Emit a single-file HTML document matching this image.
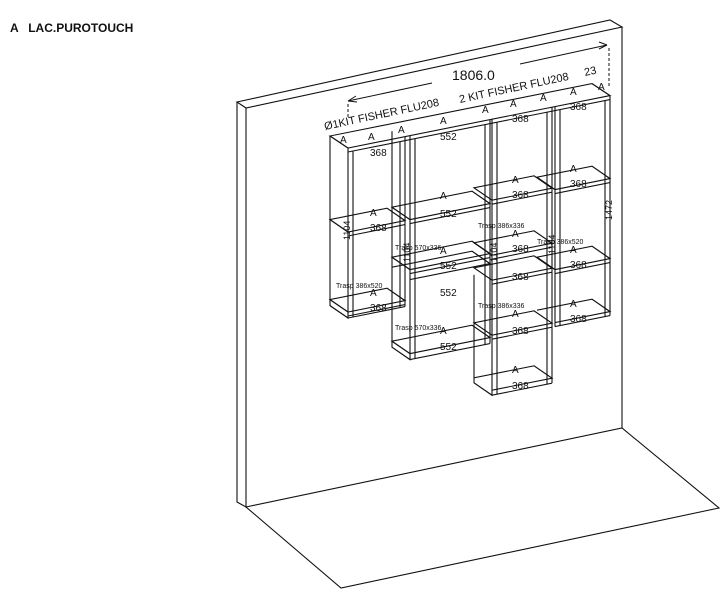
<!DOCTYPE html>
<html><head><meta charset="utf-8"><style>
html,body{margin:0;padding:0;background:#fff;width:726px;height:589px;overflow:hidden}
svg{display:block}
.t{font-family:"Liberation Sans",sans-serif;fill:#111}
</style></head><body>
<svg width="726" height="589" viewBox="0 0 726 589" xmlns="http://www.w3.org/2000/svg">
<text x="10" y="32" class="t" font-size="12" font-weight="bold" xml:space="preserve">A   LAC.PUROTOUCH</text>
<g fill="none" stroke="#111" stroke-width="1.1">
<path d="M237,102 L610,20 L622,27 L246,108 Z"/>
<path d="M237,102 L237,502 L246,507 L246,108"/>
<path d="M622,27 L622,428"/>
<path d="M246,507 L622,428 L719,508 L341,588 Z"/>
</g>
<g stroke="#111" stroke-width="1" fill="none">
<path d="M348,101 L432,83"/><path d="M520,64 L607,45"/>
<path d="M348,101 l8,-5 M348,101 l9,1"/>
<path d="M607,45 l-8,-3 M607,45 l-8,4"/>
<path d="M348,104 L348,118" stroke-dasharray="3,2"/>
<path d="M609,48 L609,88" stroke-dasharray="3,2"/>
</g>
<text x="452" y="80" class="t" font-size="14">1806.0</text>
<text x="585" y="76" class="t" font-size="11" transform="rotate(-12 585 76)">23</text>
<text x="325" y="130" class="t" font-size="11" transform="rotate(-12 325 130)">Ø1KIT FISHER FLU208</text>
<text x="460" y="103" class="t" font-size="11" transform="rotate(-12 460 103)">2 KIT FISHER FLU208</text>
<g transform="matrix(1,-0.2,0,1,0,69.6)" fill="none" stroke="#111" stroke-width="1.1">
<path d="M330,132.4 L592,132.4 L610,148 L348,148 Z"/>
<path d="M348,152 L610,152"/>
<path d="M330,132 V302 L348,318 V148 M353,152 V318 M405,148 V318 M400,152 V318 M348,318 H405"/>
<path d="M330,216 H387 L405,232 H348 Z M348,236 H405"/>
<path d="M330,296 H387 L405,312 H348 Z M348,316 H405"/>
<path d="M392,140 V356 L410,372 V148 M415,152 V372 M490,148 V372 M485,152 V372 M410,372 H490"/>
<path d="M392,216 H472 L490,232 H410 Z M410,236 H490"/>
<path d="M392,266 H472 L490,282 H410 Z M410,286 H490"/>
<path d="M392,276 H472 L490,292 H410"/>
<path d="M392,350 H472 L490,366 H410 Z"/>
<path d="M474,300 V408 L492,424 V148 M497,152 V424 M552,148 V424 M547,152 V424 M492,424 H552"/>
<path d="M474,213 H534 L552,229 H492 Z M492,233 H552"/>
<path d="M474,268 H534 L552,284 H492 Z M492,288 H552"/>
<path d="M474,293 H534 L552,309 H492 Z M492,313 H552"/>
<path d="M474,348 H534 L552,364 H492 Z M492,368 H552"/>
<path d="M474,403 H534 L552,419 H492"/>
<path d="M555,148 V368 M560,152 V368 M610,148 V368 M605,152 V368 M555,368 H610"/>
<path d="M537,215 H592 L610,231 H555 Z M555,235 H610"/>
<path d="M537,295 H592 L610,311 H555 Z M555,315 H610"/>
<path d="M537,348 H592 L610,364 H555"/>
</g>
<g class="t" font-size="10">
<text x="340" y="143">A</text><text x="368" y="140">A</text><text x="398" y="133">A</text><text x="440" y="124">A</text><text x="482" y="113">A</text><text x="510" y="107">A</text><text x="540" y="101">A</text><text x="570" y="95">A</text><text x="598" y="90">A</text>
<text x="370" y="156">368</text><text x="440" y="140">552</text><text x="512" y="122">368</text><text x="570" y="110">368</text>
<text x="370" y="216">A</text><text x="370" y="231">368</text>
<text x="370" y="296">A</text><text x="370" y="311">368</text>
<text x="440" y="199">A</text><text x="440" y="217">552</text>
<text x="440" y="254">A</text><text x="440" y="269">552</text><text x="440" y="296">552</text>
<text x="440" y="334">A</text><text x="440" y="350">552</text>
<text x="512" y="183">A</text><text x="512" y="198">368</text>
<text x="512" y="237">A</text><text x="512" y="252">368</text><text x="512" y="280">368</text>
<text x="512" y="317">A</text><text x="512" y="334">368</text>
<text x="512" y="373">A</text><text x="512" y="389">368</text>
<text x="570" y="172">A</text><text x="570" y="187">368</text>
<text x="570" y="253">A</text><text x="570" y="268">368</text>
<text x="570" y="307">A</text><text x="570" y="322">368</text>
</g>
<g class="t" font-size="7">
<text x="336" y="288">Trasp 386x520</text>
<text x="395" y="250">Trasp 570x336</text>
<text x="395" y="330">Trasp 570x336</text>
<text x="478" y="228">Trasp 386x336</text>
<text x="478" y="308">Trasp 386x336</text>
<text x="537" y="244">Trasp 386x520</text>
</g>
<g class="t" font-size="9">
<text x="350" y="240" transform="rotate(-90 350 240)">1104</text>
<text x="612" y="220" transform="rotate(-90 612 220)">1472</text>
<text x="410" y="262" transform="rotate(-90 410 262)">1104</text>
<text x="497" y="262" transform="rotate(-90 497 262)">1104</text>
<text x="555" y="254" transform="rotate(-90 555 254)">1104</text>
</g>
</svg>
</body></html>
